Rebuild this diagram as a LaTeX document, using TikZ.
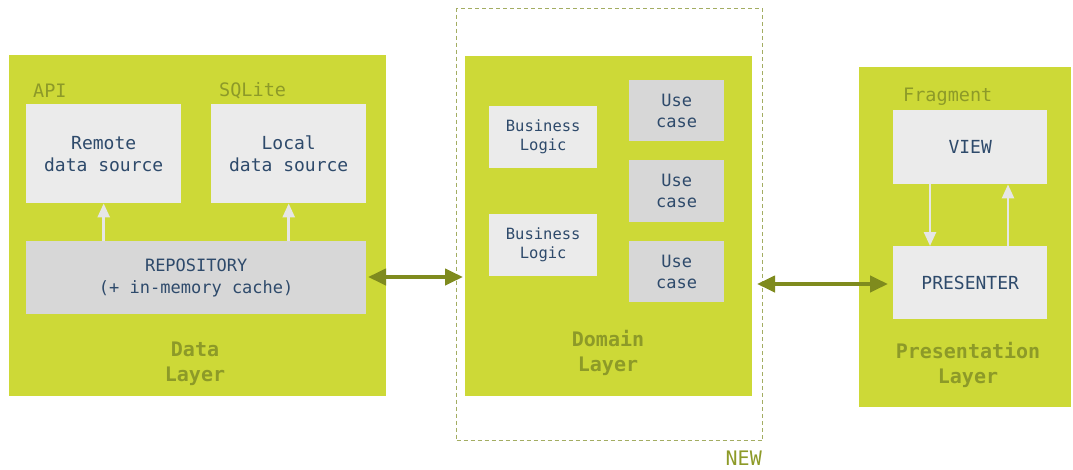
\documentclass[tikz,border=0pt]{standalone}
\usepackage{fontspec}
\setmonofont{DejaVu Sans Mono}
\usetikzlibrary{arrows.meta}
\definecolor{lime}{HTML}{CDD937}
\definecolor{olive}{HTML}{8D9A28}
\definecolor{arrowolive}{HTML}{7F8B1E}
\definecolor{frameolive}{HTML}{A3AD62}
\definecolor{boxlight}{HTML}{EBEBEB}
\definecolor{boxmid}{HTML}{D7D7D7}
\definecolor{ink}{HTML}{2E4A6B}
\definecolor{pale}{HTML}{E6E6E6}
\tikzset{
  layer/.style={fill=lime, draw=none},
  inner/.style={draw=none, align=center, text=ink, font=\ttfamily\fontsize{18}{22}\selectfont},
  light/.style={inner, fill=boxlight},
  mid/.style={inner, fill=boxmid},
  tag/.style={text=olive, font=\ttfamily\fontsize{18.5}{22}\selectfont, anchor=west, inner sep=0pt},
  layername/.style={text=olive, align=center, font=\ttfamily\bfseries\fontsize{20}{25}\selectfont},
  link/.style={draw=arrowolive, line width=4pt, {Triangle[length=18pt,width=16pt]}-{Triangle[length=18pt,width=16pt]}},
  flow/.style={draw=pale, line width=2.5pt, -{Triangle[length=14pt,width=12pt]}},
}
\begin{document}
\begin{tikzpicture}[x=1pt,y=-1pt]
\useasboundingbox (0,0) rectangle (1073,469);

% Data layer
\node[layer, minimum width=377pt, minimum height=341pt, anchor=north west] (data) at (9,55) {};
\node[tag] (api) at (33,91) {API};
\node[tag] (sqlite) at (219,91) {SQLite};
\node[light, minimum width=155pt, minimum height=99pt, anchor=north west] (remote) at (26,104) {Remote\\data source};
\node[light, minimum width=155pt, minimum height=99pt, anchor=north west] (local) at (211,104) {Local\\data source};
\node[mid, minimum width=340pt, minimum height=73pt, anchor=north west, font=\ttfamily\fontsize{17}{22}\selectfont] (repo) at (26,241) {REPOSITORY\\(+ in-memory cache)};
\node[layername] (datalabel) at (195,364) {Data\\Layer};
\draw[flow] (repo.north -| remote.south) -- (remote.south);
\draw[flow] (repo.north -| local.south) -- (local.south);

% Domain layer
\node[draw=frameolive, dashed, dash pattern=on 4pt off 3pt, line width=1pt, minimum width=306pt, minimum height=432pt, anchor=north west] (newframe) at (456,8) {};
\node[text=olive, font=\ttfamily\fontsize{20}{24}\selectfont, anchor=east, inner sep=0pt] (newtag) at (762,458) {NEW};
\node[layer, minimum width=287pt, minimum height=340pt, anchor=north west] (domain) at (465,56) {};
\node[light, minimum width=108pt, minimum height=62pt, anchor=north west, font=\ttfamily\fontsize{15.5}{19}\selectfont] (bl1) at (489,106) {Business\\Logic};
\node[light, minimum width=108pt, minimum height=62pt, anchor=north west, font=\ttfamily\fontsize{15.5}{19}\selectfont] (bl2) at (489,214) {Business\\Logic};
\node[mid, minimum width=95pt, minimum height=61pt, anchor=north west, font=\ttfamily\fontsize{17}{21}\selectfont] (uc1) at (629,80) {Use\\case};
\node[mid, minimum width=95pt, minimum height=62pt, anchor=north west, font=\ttfamily\fontsize{17}{21}\selectfont] (uc2) at (629,160) {Use\\case};
\node[mid, minimum width=95pt, minimum height=61pt, anchor=north west, font=\ttfamily\fontsize{17}{21}\selectfont] (uc3) at (629,241) {Use\\case};
\node[layername] (domainlabel) at (608,353) {Domain\\Layer};

% Presentation layer
\node[layer, minimum width=212pt, minimum height=340pt, anchor=north west] (pres) at (859,67) {};
\node[tag] (fragment) at (903,97) {Fragment};
\node[light, minimum width=154pt, minimum height=74pt, anchor=north west] (view) at (893,110) {VIEW};
\node[light, minimum width=154pt, minimum height=73pt, anchor=north west] (presenter) at (893,246) {PRESENTER};
\node[layername] (preslabel) at (968,365) {Presentation\\Layer};
\coordinate (vd) at (930,0);
\coordinate (vu) at (1008,0);
\draw[flow] (view.south -| vd) -- (presenter.north -| vd);
\draw[flow] (presenter.north -| vu) -- (view.south -| vu);

% Connections between layers
\coordinate (l1) at (368,277);
\coordinate (r1) at (463,277);
\coordinate (l2) at (757,284);
\coordinate (r2) at (888,284);
\draw[link] (l1) -- (r1);
\draw[link] (l2) -- (r2);
\end{tikzpicture}
\end{document}
